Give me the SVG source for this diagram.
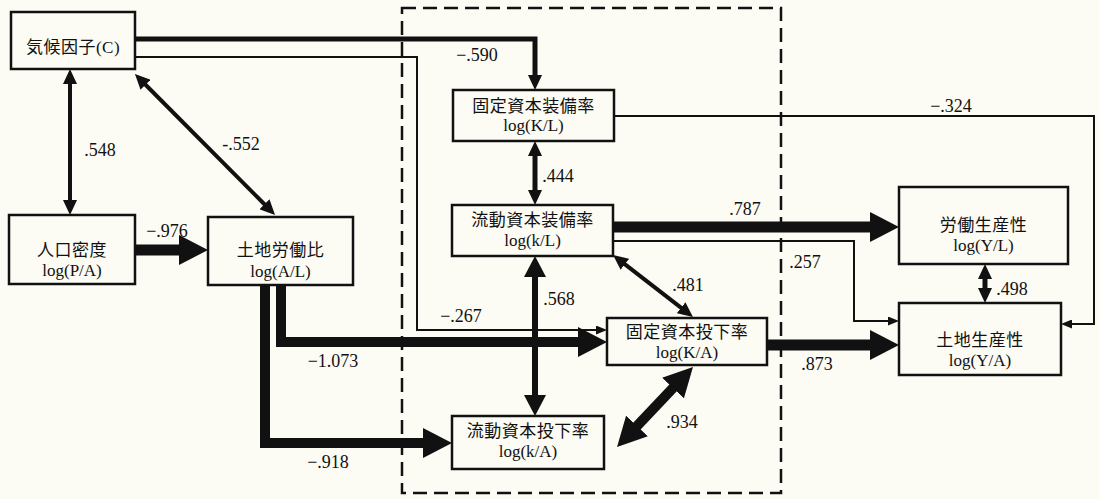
<svg xmlns="http://www.w3.org/2000/svg" width="1099" height="499" viewBox="0 0 1099 499">
<style>
.bg{fill:#fcfbf4}
.box{fill:#fcfbf4;stroke:#111;stroke-width:2.5}
.jp{font-family:"Liberation Serif","Noto Sans CJK JP",serif;font-size:17px;fill:#111;text-anchor:middle;letter-spacing:0.5px}
.lg{font-family:"Liberation Serif","Noto Sans CJK JP",serif;font-size:17px;fill:#111;text-anchor:middle}
.lb{font-family:"Liberation Serif",serif;font-size:18px;fill:#111;text-anchor:middle}
.c{fill:none;stroke:#111;stroke-linejoin:miter;stroke-linecap:butt}
.dash{fill:none;stroke:#111;stroke-width:2.5;stroke-dasharray:14 7}
</style>
<defs>
<marker id="hL" markerUnits="userSpaceOnUse" markerWidth="29" markerHeight="30" viewBox="0 -15 29 30" refX="1" refY="0" orient="auto-start-reverse"><path d="M0,-15 L29,0 L0,15 z" fill="#111"/></marker>
<marker id="hM" markerUnits="userSpaceOnUse" markerWidth="15" markerHeight="14" viewBox="0 -7 15 14" refX="1" refY="0" orient="auto-start-reverse"><path d="M0,-7 L15,0 L0,7 z" fill="#111"/></marker>
<marker id="hM2" markerUnits="userSpaceOnUse" markerWidth="21" markerHeight="22" viewBox="0 -11 21 22" refX="1" refY="0" orient="auto-start-reverse"><path d="M0,-11 L21,0 L0,11 z" fill="#111"/></marker>
<marker id="hS" markerUnits="userSpaceOnUse" markerWidth="11" markerHeight="9" viewBox="0 -4.5 11 9" refX="1" refY="0" orient="auto-start-reverse"><path d="M0,-4.5 L11,0 L0,4.5 z" fill="#111"/></marker>
</defs>
<rect class="bg" x="0" y="0" width="1099" height="499"/>
<rect class="dash" x="402" y="8" width="379" height="485"/>

<g id="nC"><rect class="box" x="11" y="12" width="124" height="57"/><text class="jp" x="73" y="53">気候因子(C)</text></g>
<g id="nPA"><rect class="box" x="9" y="215" width="126" height="69"/><text class="jp" x="72" y="256">人口密度</text><text class="lg" x="72" y="276">log(P/A)</text></g>
<g id="nAL"><rect class="box" x="208" y="217" width="145" height="68"/><text class="jp" x="280.5" y="256">土地労働比</text><text class="lg" x="280.5" y="277">log(A/L)</text></g>
<g id="nKL"><rect class="box" x="453" y="90" width="161" height="51"/><text class="jp" x="533.5" y="112">固定資本装備率</text><text class="lg" x="533.5" y="131">log(K/L)</text></g>
<g id="nkL"><rect class="box" x="452" y="205" width="161" height="51"/><text class="jp" x="532.5" y="226">流動資本装備率</text><text class="lg" x="532.5" y="246">log(k/L)</text></g>
<g id="nKA"><rect class="box" x="607" y="318" width="160" height="47"/><text class="jp" x="687" y="338">固定資本投下率</text><text class="lg" x="687" y="358">log(K/A)</text></g>
<g id="nkA"><rect class="box" x="452" y="416" width="152" height="53"/><text class="jp" x="528" y="437">流動資本投下率</text><text class="lg" x="528" y="457">log(k/A)</text></g>
<g id="nYL"><rect class="box" x="899" y="187" width="169" height="77"/><text class="jp" x="983.5" y="231">労働生産性</text><text class="lg" x="983.5" y="251">log(Y/L)</text></g>
<g id="nYA"><rect class="box" x="899" y="303" width="162" height="72"/><text class="jp" x="980" y="346">土地生産性</text><text class="lg" x="980" y="366">log(Y/A)</text></g>

<g id="connectors">
<path class="c" d="M135,39 H535 V76" stroke-width="5" marker-end="url(#hM)"/>
<path class="c" d="M135,57 H417 V330 H597" stroke-width="2" marker-end="url(#hS)"/>
<path class="c" d="M70,83 V201" stroke-width="4" marker-start="url(#hM)" marker-end="url(#hM)"/>
<path class="c" d="M144.8,84 L265.2,205" stroke-width="4" marker-start="url(#hM)" marker-end="url(#hM)"/>
<path class="c" d="M135,250 H180" stroke-width="11" marker-end="url(#hL)"/>
<path class="c" d="M281,285 V342 H579" stroke-width="10" marker-end="url(#hL)"/>
<path class="c" d="M265,285 V443 H424" stroke-width="10" marker-end="url(#hL)"/>
<path class="c" d="M535,155 V191" stroke-width="5" marker-start="url(#hM)" marker-end="url(#hM)"/>
<path class="c" d="M535,276 V396" stroke-width="6" marker-start="url(#hM2)" marker-end="url(#hM2)"/>
<path class="c" d="M624.1,263.6 L681.9,308.4" stroke-width="4" marker-start="url(#hM)" marker-end="url(#hM)"/>
<path class="c" d="M673.7,387.3 L636.3,426.7" stroke-width="10" marker-start="url(#hL)" marker-end="url(#hL)"/>
<path class="c" d="M613,227 H871" stroke-width="11" marker-end="url(#hL)"/>
<path class="c" d="M613,241 H854 V321 H889" stroke-width="2" marker-end="url(#hS)"/>
<path class="c" d="M614,116 H1094 V324 H1071" stroke-width="2" marker-end="url(#hS)"/>
<path class="c" d="M767,345 H871" stroke-width="11" marker-end="url(#hL)"/>
<path class="c" d="M985,278 V289" stroke-width="5" marker-start="url(#hM)" marker-end="url(#hM)"/>
<text class="lb" x="477" y="61">−.590</text>
<text class="lb" x="461" y="322">−.267</text>
<text class="lb" x="100" y="156">.548</text>
<text class="lb" x="241" y="150">-.552</text>
<text class="lb" x="167" y="237">−.976</text>
<text class="lb" x="333" y="367">−1.073</text>
<text class="lb" x="328" y="468">−.918</text>
<text class="lb" x="558" y="182">.444</text>
<text class="lb" x="559" y="305">.568</text>
<text class="lb" x="688" y="291">.481</text>
<text class="lb" x="682" y="428">.934</text>
<text class="lb" x="745" y="215">.787</text>
<text class="lb" x="805" y="268">.257</text>
<text class="lb" x="951" y="112">−.324</text>
<text class="lb" x="817" y="370">.873</text>
<text class="lb" x="1012" y="295">.498</text>
</g>
</svg>
